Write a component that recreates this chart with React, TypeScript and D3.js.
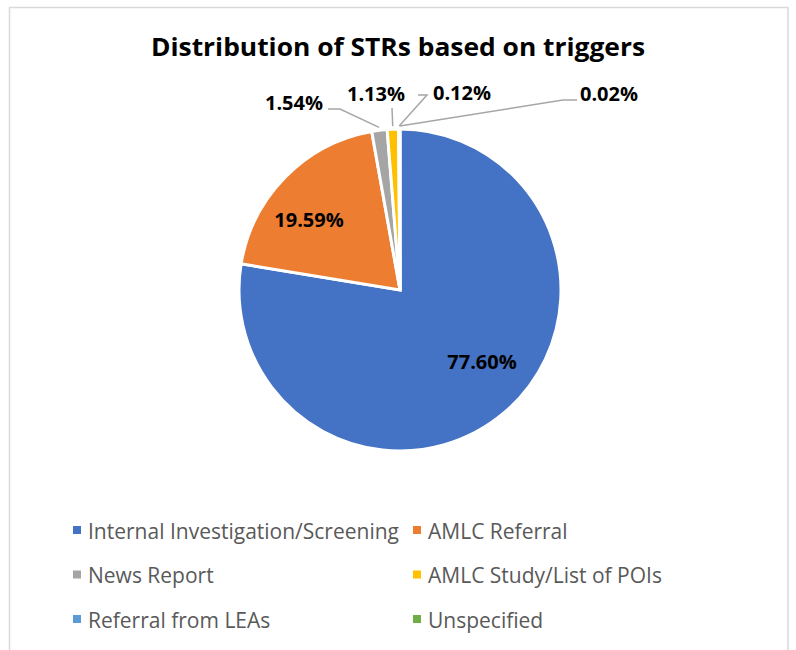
import { useRef, useEffect } from 'react';
import * as d3 from 'd3';

const W = 796;
const H = 650;
const CENTER = { x: 400, y: 290 };
const RADIUS = 161;
const FONT = '"Open Sans", "Noto Sans", sans-serif';

const TITLE = 'Distribution of STRs based on triggers';
const categories = [
  'Internal Investigation/Screening',
  'AMLC Referral',
  'News Report',
  'AMLC Study/List of POIs',
  'Referral from LEAs',
  'Unspecified',
];
const shares = [77.6, 19.59, 1.54, 1.13, 0.12, 0.02];
const colors = ['#4472C4', '#ED7D31', '#A5A5A5', '#FFC000', '#5B9BD5', '#70AD47'];

// label placement, relative to pie centre (Excel "best fit" positions)
const labelPos: [number, number][] = [
  [82, 72],
  [-91, -70],
  [-106, -187],
  [-24, -196],
  [62, -197],
  [209, -196],
];
// leader line points from label towards the slice (null = label sits inside)
const leaders: ([number, number][] | null)[] = [
  null,
  null,
  [[-72, -181], [-60, -181]],
  [[-8, -182]],
  [[18, -195], [27, -195]],
  [[177, -190], [163, -190]],
];

export default function App() {
  const svgRef = useRef<SVGSVGElement | null>(null);

  useEffect(() => {
    if (!svgRef.current) return;
    const svg = d3.select(svgRef.current);
    svg.selectAll('*').remove();

    // chart area frame
    svg.append('rect')
      .attr('x', 9.5)
      .attr('y', 7.5)
      .attr('width', 778.5)
      .attr('height', 700)
      .attr('fill', '#fff')
      .attr('stroke', '#d9d9d9')
      .attr('stroke-width', 1.5);

    svg.append('text')
      .attr('x', 398)
      .attr('y', 56)
      .attr('text-anchor', 'middle')
      .attr('font-family', FONT)
      .attr('font-weight', 700)
      .attr('font-size', 25)
      .attr('textLength', 494)
      .attr('lengthAdjust', 'spacingAndGlyphs')
      .attr('fill', '#000')
      .text(TITLE);

    const data = categories.map((name, i) => ({ name, value: shares[i], color: colors[i], i }));
    const pie = d3.pie<any>().sort(null).value((d) => d.value);
    const arcs = pie(data);
    const arc = d3.arc<any>().innerRadius(0).outerRadius(RADIUS);
    const edge = d3.arc<any>().innerRadius(RADIUS + 3).outerRadius(RADIUS + 3);

    const g = svg.append('g').attr('transform', `translate(${CENTER.x},${CENTER.y})`);

    g.selectAll('path.slice')
      .data(arcs)
      .join('path')
      .attr('class', 'slice')
      .attr('d', arc)
      .attr('fill', (d) => d.data.color)
      .attr('stroke', '#fff')
      .attr('stroke-width', 3)
      .attr('stroke-linejoin', 'miter');

    // leader lines
    arcs.forEach((a, i) => {
      const pts = leaders[i];
      if (!pts) return;
      const end = edge.centroid(a);
      const line = d3.line();
      g.append('path')
        .attr('d', line([...pts, end as [number, number]]))
        .attr('fill', 'none')
        .attr('stroke', '#a6a6a6')
        .attr('stroke-width', 1.5);
    });

    // data labels
    g.selectAll('text.lbl')
      .data(arcs)
      .join('text')
      .attr('class', 'lbl')
      .attr('x', (d, i) => labelPos[i][0])
      .attr('y', (d, i) => labelPos[i][1])
      .attr('dy', '0.36em')
      .attr('text-anchor', 'middle')
      .attr('font-family', FONT)
      .attr('font-weight', 700)
      .attr('font-size', 20)
      .attr('fill', '#000')
      .text((d) => d.data.value.toFixed(2) + '%');

    // legend: two columns, three rows
    const colX = [73, 413];
    const rowY = d3.scalePoint<number>().domain([0, 1, 2]).range([531, 620]);
    const lg = svg.append('g');
    data.forEach((d, i) => {
      const x = colX[i % 2];
      const y = rowY(Math.floor(i / 2)) as number;
      lg.append('rect')
        .attr('x', x)
        .attr('y', y - 5)
        .attr('width', 8)
        .attr('height', 8)
        .attr('fill', d.color);
      lg.append('text')
        .attr('x', x + 15)
        .attr('y', y)
        .attr('dy', '0.36em')
        .attr('font-family', FONT)
        .attr('font-size', 21)
        .attr('fill', '#595959')
        .text(d.name);
    });
  }, []);

  return (
    <svg
      ref={svgRef}
      width={W}
      height={H}
      style={{ position: 'absolute', left: 0, top: 0, background: '#fff' }}
    />
  );
}
